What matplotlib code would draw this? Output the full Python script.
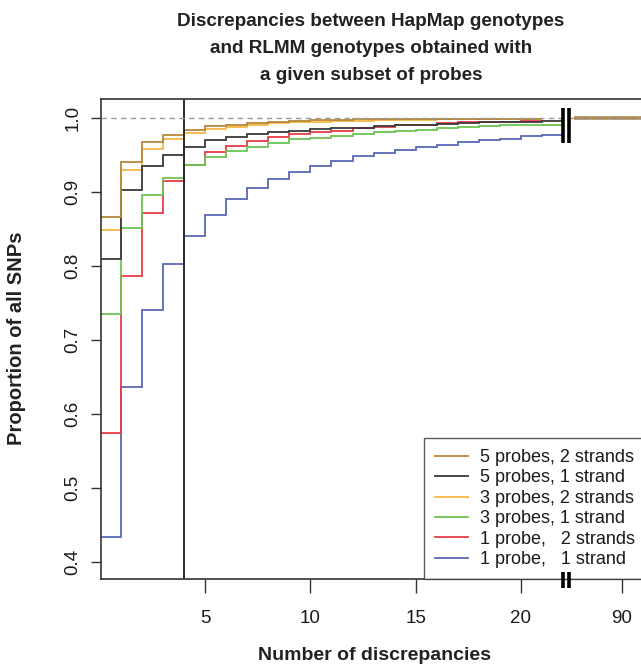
import numpy as np
import matplotlib
matplotlib.use("Agg")
import matplotlib.pyplot as plt
from matplotlib.lines import Line2D
import matplotlib.transforms as mtransforms

plt.rcParams['font.family'] = ['Liberation Sans', 'DejaVu Sans']

# ---------------- data ----------------
series_labels = ["5 probes, 2 strands", "5 probes, 1 strand", "3 probes, 2 strands",
                 "3 probes, 1 strand", "1 probe,   2 strands", "1 probe,   1 strand"]
series_colors = ["#B5873A", "#3A3A3A", "#F7B844", "#6CC452", "#E83C44", "#5A68B4"]

p5_s2 = [0.866, 0.941, 0.967, 0.977, 0.984, 0.989, 0.991, 0.993, 0.995, 0.996, 0.997,
         0.997, 0.998, 0.998, 0.998, 0.998, 0.999, 0.999, 0.999, 0.999, 0.999]
p5_s1 = [0.809, 0.903, 0.935, 0.950, 0.961, 0.970, 0.9745, 0.978, 0.981, 0.983, 0.985,
         0.986, 0.987, 0.989, 0.990, 0.991, 0.992, 0.993, 0.994, 0.995, 0.995, 0.996]
p3_s2 = [0.849, 0.930, 0.958, 0.971, 0.980, 0.985, 0.988, 0.991, 0.993, 0.994, 0.995,
         0.996, 0.996, 0.997, 0.997, 0.997, 0.998, 0.998, 0.998, 0.998, 0.998]
p3_s1 = [0.735, 0.851, 0.896, 0.919, 0.936, 0.947, 0.955, 0.961, 0.966, 0.971, 0.973,
         0.976, 0.979, 0.981, 0.983, 0.984, 0.986, 0.988, 0.989, 0.990, 0.991, 0.991]
p1_s2 = [0.574, 0.786, 0.872, 0.915, 0.936, 0.954, 0.962, 0.969, 0.974, 0.978, 0.981,
         0.983, 0.986, 0.988, 0.990, 0.991, 0.993, 0.994, 0.994, 0.995, 0.996]
p1_s1 = [0.433, 0.636, 0.740, 0.802, 0.840, 0.869, 0.891, 0.905, 0.917, 0.927, 0.935,
         0.942, 0.948, 0.953, 0.957, 0.961, 0.964, 0.967, 0.970, 0.972, 0.975, 0.977]
value_at_90 = [1.0, 1.0, 1.0, 1.0, 1.0, 1.0]

x_ticks = [5, 10, 15, 20]
x_tick_labels = ["5", "10", "15", "20"]
far_tick_label = "90"
y_ticks = [0.4, 0.5, 0.6, 0.7, 0.8, 0.9, 1.0]
y_tick_labels = ["0.4", "0.5", "0.6", "0.7", "0.8", "0.9", "1.0"]

title_lines = ["Discrepancies between HapMap genotypes",
               "and RLMM genotypes obtained with",
               "a given subset of probes"]
x_label = "Number of discrepancies"
y_label = "Proportion of all SNPs"

# ---------------- layout ----------------
W, H = 641, 669
fig = plt.figure(figsize=(W / 100, H / 100), dpi=100)
ax_l, ax_r, ax_t, ax_b = 101, 646, 99, 579
ax = fig.add_axes([ax_l / W, 1 - ax_b / H, (ax_r - ax_l) / W, (ax_b - ax_t) / H])

px_per_unit = 21.05
x0_px = 99.9
xmin = (ax_l - x0_px) / px_per_unit
xmax = (ax_r - x0_px) / px_per_unit
far_pos = (622 - x0_px) / px_per_unit
break_a, break_b = 22.0, 22.3
right_start = 22.5

ax.set_xlim(xmin, xmax)
ax.set_ylim(0.3766, 1.0257)

all_series = [p5_s2, p5_s1, p3_s2, p3_s1, p1_s2, p1_s1]
lw = 1.3
# draw in reverse order so that upper legend entries lie on top
for vals, col, v90 in list(zip(all_series, series_colors, value_at_90))[::-1]:
    edges = np.arange(len(vals) + 1)
    ax.stairs(vals, edges, baseline=None, color=col, lw=lw)
    ax.plot([right_start, xmax], [v90, v90], color=col, lw=lw + 0.4, solid_capstyle='butt')

# grey dashed reference at 1.0
ax.axhline(1.0, color="#9A9A9A", lw=1.0, ls=(0, (4, 3)), zorder=5)

# vertical separator at 4
ax.axvline(4, color="#2A2A2A", lw=1.4)

# break marks
for bx in (break_a, break_b):
    ax.plot([bx, bx], [0.966, 1.0135], color="black", lw=2.6, solid_capstyle='butt', zorder=6)
trans = mtransforms.blended_transform_factory(ax.transData, ax.transAxes)
for bx in (break_a, break_b):
    ax.plot([bx, bx], [-0.019, 0.015], color="black", lw=2.6, transform=trans,
            clip_on=False, solid_capstyle='butt', zorder=6)

# ticks
ax.set_xticks(x_ticks + [far_pos])
ax.set_xticklabels(x_tick_labels + [far_tick_label])
ax.set_yticks(y_ticks)
ax.set_yticklabels(y_tick_labels, rotation=90, va="center")
ax.tick_params(axis="x", length=10, width=1, pad=12, labelsize=13.5, colors="#333333",
               labelcolor="#1A1A1A")
ax.tick_params(axis="y", length=7, width=1, pad=7, labelsize=13.5, colors="#333333",
               labelcolor="#1A1A1A")
for s in ax.spines.values():
    s.set_color("#333333")
    s.set_linewidth(1.2)

# legend
handles = [Line2D([], [], color=c, lw=lw) for c in series_colors]
leg = ax.legend(handles, series_labels, loc="lower right", borderaxespad=0,
                fontsize=13, frameon=True, fancybox=False, handlelength=1.8,
                handletextpad=0.7, labelspacing=0.19, borderpad=0.6)
leg.get_frame().set_edgecolor("#333333")
leg.get_frame().set_linewidth(1.0)
for t in leg.get_texts():
    t.set_color("#1A1A1A")

# title & labels
for i, line in enumerate(title_lines):
    fig.text(371 / W, 1 - (21 + 27.5 * i) / H, line, ha="center", va="center",
             fontsize=13.6, fontweight="bold", color="#222222")
fig.text(374 / W, 1 - 655 / H, x_label, ha="center", va="center", fontsize=14,
         fontweight="bold", color="#222222")
fig.text(17 / W, 1 - 338 / H, y_label, ha="center", va="center", rotation=90,
         fontsize=14.5, fontweight="bold", color="#222222")

fig.savefig("out.png", dpi=100)
